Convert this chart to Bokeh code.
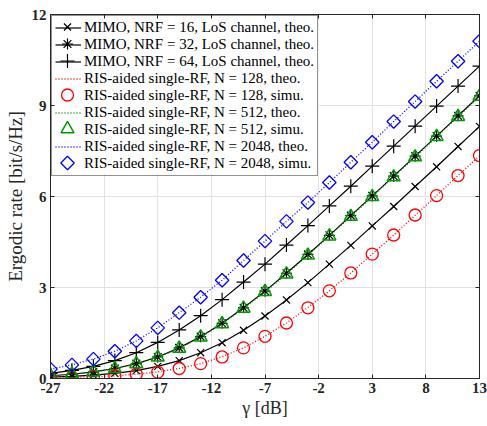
from bokeh.plotting import figure
from bokeh.models import Range1d, FixedTicker, LinearAxis, Legend, LegendItem
from bokeh.embed import file_html
from bokeh.resources import INLINE
import math

gamma_db = [-27, -25, -23, -21, -19, -17, -15, -13, -11, -9, -7, -5, -3, -1, 1, 3, 5, 7, 9, 11, 13]

mimo16 = [0.05, 0.07, 0.11, 0.17, 0.26, 0.40, 0.59, 0.85, 1.18, 1.59, 2.06, 2.59, 3.16, 3.77, 4.39, 5.03, 5.67, 6.33, 6.98, 7.65, 8.31]
mimo32 = [0.09, 0.14, 0.22, 0.33, 0.49, 0.71, 1.01, 1.38, 1.82, 2.33, 2.88, 3.47, 4.09, 4.72, 5.37, 6.02, 6.67, 7.33, 7.99, 8.66, 9.32]
mimo64 = [0.17, 0.27, 0.40, 0.59, 0.85, 1.19, 1.60, 2.07, 2.60, 3.18, 3.77, 4.40, 5.04, 5.69, 6.34, 7.00, 7.66, 8.32, 8.98, 9.64, 10.30]

ris128_theo = [0.02, 0.04, 0.06, 0.09, 0.14, 0.22, 0.33, 0.49, 0.72, 1.01, 1.39, 1.83, 2.34, 2.89, 3.48, 4.10, 4.73, 5.38, 6.03, 6.69, 7.34]
ris128_simu = [0.02, 0.04, 0.06, 0.09, 0.14, 0.21, 0.33, 0.49, 0.71, 1.01, 1.39, 1.83, 2.33, 2.89, 3.48, 4.10, 4.73, 5.39, 6.03, 6.69, 7.35]
ris512_theo = [0.09, 0.14, 0.21, 0.32, 0.48, 0.70, 0.99, 1.36, 1.80, 2.30, 2.85, 3.44, 4.06, 4.69, 5.34, 5.99, 6.64, 7.30, 7.96, 8.63, 9.29]
ris512_simu = [0.09, 0.14, 0.21, 0.32, 0.48, 0.70, 0.99, 1.36, 1.80, 2.31, 2.86, 3.44, 4.06, 4.69, 5.34, 5.99, 6.64, 7.30, 7.97, 8.63, 9.30]
ris2048_theo = [0.31, 0.45, 0.64, 0.90, 1.24, 1.67, 2.17, 2.68, 3.24, 3.89, 4.53, 5.18, 5.80, 6.46, 7.13, 7.79, 8.47, 9.13, 9.80, 10.46, 11.12]
ris2048_simu = [0.31, 0.45, 0.64, 0.90, 1.24, 1.67, 2.17, 2.68, 3.24, 3.89, 4.53, 5.18, 5.80, 6.46, 7.13, 7.79, 8.47, 9.13, 9.80, 10.46, 11.12]

x_ticks = [-27, -22, -17, -12, -7, -2, 3, 8, 13]
x_tick_labels = ["-27", "-22", "-17", "-12", "-7", "-2", "3", "8", "13"]
y_ticks = [0, 3, 6, 9, 12]
y_tick_labels = ["0", "3", "6", "9", "12"]

labels = [
    "MIMO, NRF = 16, LoS channel, theo.",
    "MIMO, NRF = 32, LoS channel, theo.",
    "MIMO, NRF = 64, LoS channel, theo.",
    "RIS-aided single-RF, N = 128, theo.",
    "RIS-aided single-RF, N = 128, simu.",
    "RIS-aided single-RF, N = 512, theo.",
    "RIS-aided single-RF, N = 512, simu.",
    "RIS-aided single-RF, N = 2048, theo.",
    "RIS-aided single-RF, N = 2048, simu.",
]

SERIF = "Liberation Serif"
AX = "#262626"
RED, GREEN, BLUE = "#ff0000", "#009900", "#0000ff"

W, H = 487, 426
MB_L, MB_R, MB_T, MB_B = 50, 8, 14, 48
X0, X1, Y0, Y1 = -27, 13, 0, 12

p = figure(width=W, height=H, x_range=Range1d(X0, X1), y_range=Range1d(Y0, Y1),
           output_backend="svg", toolbar_location=None,
           min_border_left=MB_L, min_border_right=MB_R, min_border_top=MB_T, min_border_bottom=MB_B)
p.background_fill_color = "white"
p.border_fill_color = "white"
p.outline_line_color = AX
p.outline_line_width = 1

def style_axis(ax):
    ax.axis_line_color = AX
    ax.major_tick_line_color = AX
    ax.major_tick_in = 4
    ax.major_tick_out = 0
    ax.minor_tick_line_color = None
    ax.major_label_text_font = SERIF
    ax.major_label_text_font_style = "bold"
    ax.major_label_text_color = "#262626"
    ax.major_label_text_font_size = "15px"

xa = p.xaxis[0]
ya = p.yaxis[0]
xa.ticker = FixedTicker(ticks=x_ticks)
ya.ticker = FixedTicker(ticks=y_ticks)
style_axis(xa)
style_axis(ya)
xa.major_label_overrides = {t: s for t, s in zip(x_ticks, x_tick_labels)}
ya.major_label_overrides = {t: s for t, s in zip(y_ticks, y_tick_labels)}
xa.major_label_standoff = 4
ya.major_label_standoff = 4
xa.axis_label = "γ [dB]"
ya.axis_label = "Ergodic rate [bit/s/Hz]"
for ax in (xa, ya):
    ax.axis_label_text_font = SERIF
    ax.axis_label_text_font_style = "normal"
    ax.axis_label_text_color = "#262626"
xa.axis_label_text_font_size = "18px"
ya.axis_label_text_font_size = "19px"
xa.axis_label_standoff = 2
ya.axis_label_standoff = 3

# box ticks on top and right (no labels)
top = LinearAxis(ticker=FixedTicker(ticks=x_ticks))
style_axis(top)
top.major_label_text_color = None
top.major_label_standoff = 0
top.major_label_overrides = {t: "" for t in x_ticks}
p.add_layout(top, "above")
right = LinearAxis(ticker=FixedTicker(ticks=y_ticks))
style_axis(right)
right.major_label_text_color = None
right.major_label_standoff = 0
right.major_label_overrides = {t: "" for t in y_ticks}
p.add_layout(right, "right")

p.xgrid.ticker = FixedTicker(ticks=x_ticks)
p.ygrid.ticker = FixedTicker(ticks=y_ticks)
p.xgrid.grid_line_color = "#e2e2e2"
p.ygrid.grid_line_color = "#e2e2e2"

# legend geometry (screen pixels)
LEG_MARGIN, LEG_PAD, ROW_H, GLYPH_W, LEG_W = 1, 3, 17, 26, 267
frame_l, frame_r = MB_L, W - MB_R
frame_t, frame_b = MB_T, H - MB_B
def to_dx(px):
    return X0 + (px - frame_l) / (frame_r - frame_l) * (X1 - X0)
def to_dy(py):
    return Y1 - (py - frame_t) / (frame_b - frame_t) * (Y1 - Y0)
leg_l = frame_l + LEG_MARGIN
leg_t = frame_t + LEG_MARGIN
leg_h = 2 * LEG_PAD + 9 * ROW_H

# white legend background (hides grid lines behind the legend)
p.quad(left=[to_dx(leg_l)], right=[to_dx(leg_l + LEG_W)], top=[to_dy(leg_t)], bottom=[to_dy(leg_t + leg_h)],
       fill_color="white", line_color=None)

# marker styles shared by plot and legend
mk = [
    dict(marker="x", size=10, line_color="black", line_width=1.2),
    dict(marker="asterisk", size=11, line_color="black", line_width=1.2),
    dict(marker="cross", size=14, line_color="black", line_width=1.2),
    dict(marker="circle", size=12, line_color=RED, line_width=1.3, fill_color=None),
    dict(marker="triangle", size=13, line_color=GREEN, line_width=1.5, fill_color=None),
    dict(marker="square", angle=math.pi / 4, size=9.5, line_color=BLUE, line_width=1.3, fill_color=None),
]

items = []
r1 = p.line(gamma_db, mimo16, line_color="black", line_width=1.2)
p.scatter(gamma_db, mimo16, **mk[0])
items.append(LegendItem(label=labels[0], renderers=[r1]))
r2 = p.line(gamma_db, mimo32, line_color="black", line_width=1.2)
p.scatter(gamma_db, mimo32, **mk[1])
items.append(LegendItem(label=labels[1], renderers=[r2]))
r3 = p.line(gamma_db, mimo64, line_color="black", line_width=1.2)
p.scatter(gamma_db, mimo64, **mk[2])
items.append(LegendItem(label=labels[2], renderers=[r3]))

r4 = p.line(gamma_db, ris128_theo, line_color=RED, line_width=1.3, line_dash="1 2")
items.append(LegendItem(label=labels[3], renderers=[r4]))
m4 = p.scatter(gamma_db, ris128_simu, **mk[3])
blank4 = p.line([], [], line_alpha=0)
items.append(LegendItem(label=labels[4], renderers=[blank4]))
r5 = p.line(gamma_db, ris512_theo, line_color=GREEN, line_width=1.3, line_dash="1 2")
items.append(LegendItem(label=labels[5], renderers=[r5]))
m5 = p.scatter(gamma_db, ris512_simu, **mk[4])
blank5 = p.line([], [], line_alpha=0)
items.append(LegendItem(label=labels[6], renderers=[blank5]))
r6 = p.line(gamma_db, ris2048_theo, line_color=BLUE, line_width=1.3, line_dash="1 2")
items.append(LegendItem(label=labels[7], renderers=[r6]))
m6 = p.scatter(gamma_db, ris2048_simu, **mk[5])
blank6 = p.line([], [], line_alpha=0)
items.append(LegendItem(label=labels[8], renderers=[blank6]))

legend = Legend(items=items, location="top_left", margin=LEG_MARGIN, padding=LEG_PAD, spacing=0,
                label_height=ROW_H, glyph_height=ROW_H, glyph_width=GLYPH_W, label_standoff=3,
                label_text_font=SERIF, label_text_font_size="15px", label_text_color="black",
                border_line_color=AX, border_line_width=1, background_fill_alpha=0.0)
p.add_layout(legend, "center")

# full-size legend markers in the legend's glyph slots
gx = leg_l + LEG_PAD + GLYPH_W / 2
row_c = [leg_t + LEG_PAD + ROW_H / 2 + ROW_H * i for i in range(9)]
leg_rows = [0, 1, 2, 4, 6, 8]
for style, row in zip(mk, leg_rows):
    p.scatter([to_dx(gx)], [to_dy(row_c[row])], **style)

open("out.html", "w").write(file_html(p, INLINE))
